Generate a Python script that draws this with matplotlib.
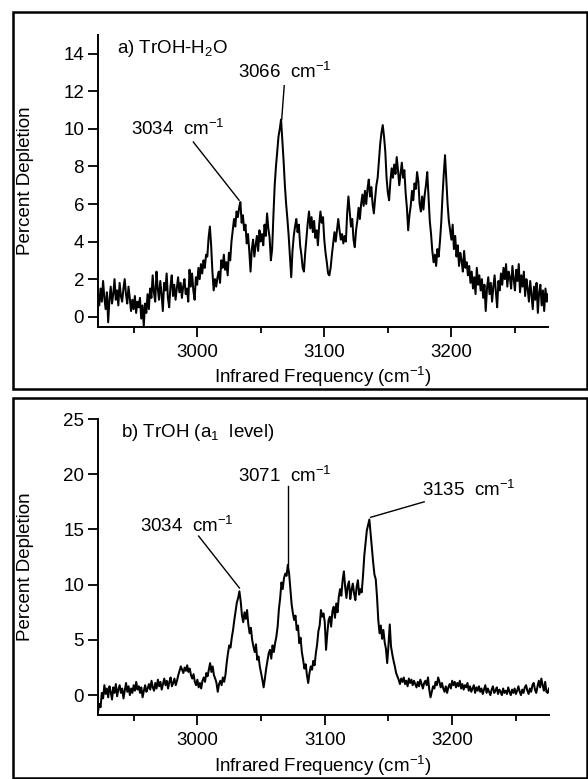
import numpy as np
import matplotlib
matplotlib.use("Agg")
import matplotlib.pyplot as plt
from matplotlib.patches import Rectangle

plt.rcParams['font.family'] = ['Liberation Sans', 'DejaVu Sans']
plt.rcParams['mathtext.fontset'] = 'custom'
plt.rcParams['mathtext.rm'] = 'Liberation Sans'
plt.rcParams['mathtext.it'] = 'Liberation Sans:italic'
plt.rcParams['mathtext.bf'] = 'Liberation Sans:bold'

# ---------------- data ----------------
freq_start = 2922
freq_step = 1

depletion_a = [
    1.2, 0.6, 1.5, 0.8, 1.9, 1.0, 0.4, 1.3, -0.3, 0.9,
    1.6, 0.7, 1.2, 2.0, 0.9, 1.4, 0.6, 1.8, 1.1, 0.8,
    1.5, 2.0, 1.2, 0.7, 1.6, 1.0, 0.3, 0.9, 0.4, 1.1,
    0.2, 0.8, 0.5, 1.0, -0.1, 0.6, -0.5, 0.7, 0.2, 1.2,
    0.4, 1.5, 1.0, 2.2, 1.3, 0.8, 2.4, 1.5, 0.9, 1.9,
    1.2, 0.3, 1.8, 1.4, 2.3, 1.0, 0.5, 1.6, 2.2, 1.1,
    1.7, 0.9, 1.5, 2.1, 1.3, 1.8, 1.0, 1.6, 2.0, 1.2,
    1.5, 0.8, 2.5, 1.6, 2.3, 1.4, 0.9, 2.1, 1.7, 2.6,
    2.0, 2.8, 2.3, 3.0, 2.6, 3.3, 3.2, 4.2, 4.8, 3.8,
    2.4, 1.4, 2.0, 1.6, 2.1, 2.4, 1.8, 3.0, 2.6, 3.3,
    2.5, 2.9, 2.2, 3.4, 3.0, 4.0, 4.6, 5.2, 4.8, 5.6,
    5.3, 5.8, 6.1, 5.0, 5.4, 4.6, 4.9, 3.9, 4.4, 3.5,
    2.4, 3.6, 4.1, 3.2, 3.8, 4.3, 3.5, 4.6, 4.0, 4.4,
    3.8, 4.9, 4.3, 5.5, 4.7, 4.2, 3.0, 3.6, 5.4, 7.0,
    8.0, 8.8, 9.6, 10.0, 10.5, 9.4, 8.3, 7.0, 6.0, 5.2,
    4.3, 3.2, 2.1, 3.5, 4.3, 4.8, 5.2, 4.5, 4.9, 3.8,
    3.3, 2.6, 2.4, 3.4, 4.2, 5.0, 5.6, 4.7, 5.3, 4.5,
    5.1, 4.2, 4.6, 3.8, 4.9, 5.6, 5.0, 5.3, 4.1, 3.4,
    2.9, 2.3, 2.2, 2.6, 3.3, 3.9, 4.5, 4.0, 4.6, 5.2,
    4.6, 4.1, 4.4, 3.9, 4.3, 4.0, 5.5, 6.4, 5.6, 4.8,
    5.2, 4.1, 3.7, 4.6, 5.1, 5.8, 5.2, 6.0, 6.5, 5.9,
    6.7, 6.0, 6.8, 7.3, 6.4, 6.9, 6.0, 5.5, 6.3, 7.0,
    7.4, 8.3, 9.2, 9.8, 10.2, 9.6, 8.8, 7.4, 6.6, 6.2,
    7.2, 7.9, 7.4, 8.1, 7.6, 8.5, 7.8, 7.0, 7.6, 8.2,
    7.4, 7.8, 6.6, 5.8, 4.6, 5.4, 5.9, 6.7, 6.2, 7.1,
    6.8, 7.7, 7.2, 6.0, 5.6, 6.4, 5.7, 6.5, 7.0, 7.7,
    6.4, 5.1, 4.4, 3.5, 2.9, 3.3, 2.7, 3.6, 3.2, 4.0,
    5.0, 6.4, 7.6, 8.6, 7.3, 6.0, 5.1, 4.6, 4.1, 4.9,
    3.6, 4.3, 3.2, 3.8, 2.7, 3.4, 3.0, 2.4, 3.5, 2.6,
    2.9, 2.2, 2.7, 1.8, 2.4, 1.5, 2.1, 1.2, 2.6, 1.7,
    2.2, 1.4, 2.0, 1.0, 1.7, 0.3, 1.5, 2.1, 1.2, 1.8,
    0.8, 1.6, 2.2, 1.3, 0.5, 1.9, 1.4, 2.3, 1.7, 2.6,
    2.0, 2.8, 1.6, 2.4, 2.1, 1.5, 2.7, 2.0, 1.4, 2.5,
    1.9, 2.8, 1.3, 2.2, 1.6, 2.4, 1.1, 2.0, 1.5, 0.8,
    1.9, 1.2, 0.4, 1.6, 0.9, 1.8, 0.2, 1.3, 1.7, 0.6,
    1.4, 0.3, 1.5, 0.8, 1.2,
]

depletion_b = [
    -1.5, -0.8, -1.1, 0.2, -0.3, 0.9, 0.1, 0.6, -0.2, 0.8,
    0.3, -0.4, 0.7, 0.2, 1.0, -0.1, 0.5, 0.9, 0.2, 0.6,
    -0.3, 0.4, 1.1, 0.3, 0.8, 0.0, 0.6, 0.2, 0.9, 0.4,
    1.2, 0.5, 0.8, 0.2, 0.7, -0.2, 0.4, 0.9, 0.3, 0.6,
    1.0, 0.5, 1.3, 0.7, 0.4, 1.1, 0.6, 1.4, 0.8, 1.2,
    0.5, 1.0, 1.5, 0.9, 1.3, 0.6, 1.2, 1.6, 0.8, 1.1,
    1.5, 0.9, 1.3, 1.8, 2.2, 2.6, 2.3, 2.0, 2.5, 2.2,
    2.7, 2.1, 2.4, 1.8, 1.5, 1.9, 1.2, 0.9, 1.4, 0.7,
    1.1, 0.6, 1.3, 1.6, 1.2, 2.0, 1.7, 2.3, 2.9, 2.1,
    2.6, 1.8, 1.5, 1.1, 0.3, 1.0, 1.3, 0.9, 1.6, 1.2,
    1.8, 2.9, 3.8, 4.5, 4.3, 5.2, 5.9, 6.8, 7.6, 8.4,
    8.8, 9.4, 8.5, 7.2, 6.6, 7.5, 6.9, 7.7, 6.4, 5.6,
    6.1, 5.0, 4.4, 3.9, 4.6, 3.2, 3.5, 2.6, 2.0, 1.4,
    0.7, 1.5, 2.4, 3.1, 3.8, 4.1, 3.3, 4.5, 3.9, 4.7,
    5.3, 6.2, 7.8, 8.8, 10.2, 9.6, 10.6, 11.0, 10.8, 11.8,
    11.0, 9.6, 8.2, 7.4, 6.8, 7.2, 5.9, 6.3, 4.7, 5.2,
    3.9, 3.2, 2.4, 2.8, 1.8, 1.1, 2.0, 2.6, 2.3, 3.1,
    2.7, 3.8, 4.6, 5.8, 6.3, 7.7, 7.1, 7.4, 6.6, 4.1,
    5.6, 6.8, 7.1, 6.2, 7.6, 8.0, 7.0, 8.3, 7.5, 8.9,
    9.6, 9.0, 10.4, 11.2, 9.8, 8.8, 9.9, 10.3, 8.7, 9.5,
    10.1, 9.2, 8.6, 9.8, 10.4, 9.1, 9.6, 9.3, 10.8, 12.6,
    13.8, 14.9, 15.4, 15.9, 14.6, 13.2, 12.0, 10.9, 10.5, 8.9,
    6.8, 5.6, 6.3, 5.1, 5.9, 4.8, 4.2, 2.9, 4.5, 6.4,
    4.4, 3.7, 3.1, 2.6, 2.0, 1.7, 1.4, 1.0, 1.5, 1.2,
    1.6, 1.0, 1.3, 0.8, 1.5, 1.1, 1.4, 0.9, 1.3, 1.0,
    0.7, 1.2, 0.8, 1.4, 1.0, 0.6, 1.1, 1.3, 0.9, 1.6,
    0.5, -0.2, 0.3, 0.8, 0.6, 1.2, 0.9, 1.6, 1.2, 0.7,
    1.1, 0.6, 0.3, 0.8, 0.2, 0.7, 1.0, 0.6, 1.3, 0.9,
    1.2, 0.7, 1.1, 0.8, 1.3, 0.6, 1.0, 0.5, 0.9, 0.7,
    1.1, 0.4, 0.8, 0.3, 0.6, 0.9, 0.2, 0.7, 0.4, 0.8,
    0.3, 0.6, 0.1, 0.5, 0.9, 0.2, 0.6, 0.3, 0.0, 0.5,
    0.8, 0.2, 0.4, 0.7, 0.1, 0.5, 0.3, 0.0, 0.6, 0.2,
    0.4, 0.1, 0.7, 0.3, 0.0, 0.5, 0.2, 0.6, 0.1, 0.4,
    0.8, 0.3, 0.0, 0.5, 0.2, 0.7, 0.9, 0.4, 0.1, 0.6,
    0.3, 0.9, 1.1, 0.5, 0.2, 0.8, 1.3, 0.7, 1.5, 0.9,
    0.4, 1.2, 0.3, 0.2, 0.6,
]

freq = freq_start + freq_step * np.arange(len(depletion_a))

title_a = r"a) TrOH-H$_2$O"
title_b = r"b) TrOH (a$_1$  level)"
ylabel = "Percent Depletion"
xlabel = r"Infrared Frequency (cm$^{-1}$)"
xticks = [3000, 3100, 3200]
xticks_minor = [2950, 3050, 3150, 3250]
yticks_a = [0, 2, 4, 6, 8, 10, 12, 14]
yticks_b = [0, 5, 10, 15, 20, 25]

# annotations: (text, peak x, peak y, text-end x, text-end y, text x, text y)
ann_a = [
    (r"3034  cm$^{-1}$", 3033, 6.2, 2997, 9.3, 2948, 9.7),
    (r"3066  cm$^{-1}$", 3066.5, 10.5, 3068.5, 12.3, 3032, 12.7),
]
ann_b = [
    (r"3034  cm$^{-1}$", 3033, 9.7, 3001, 14.4, 2955, 14.8),
    (r"3071  cm$^{-1}$", 3071, 11.8, 3071, 18.9, 3032, 19.3),
    (r"3135  cm$^{-1}$", 3136, 16.1, 3178, 17.5, 3176, 18.0),
]

# ---------------- figure ----------------
W, H = 588, 779
fig = plt.figure(figsize=(W / 100, H / 100), dpi=100)

def fx(px):
    return px / W

def fy(py):
    return 1 - py / H

FS = 13.5

def setup(ax, ylim, yticks):
    ax.set_xlim(2922, 3276)
    ax.set_ylim(*ylim)
    for s in ['top', 'right']:
        ax.spines[s].set_visible(False)
    for s in ['left', 'bottom']:
        ax.spines[s].set_linewidth(1.4)
    ax.set_xticks(xticks)
    ax.set_xticks(xticks_minor, minor=True)
    ax.set_yticks(yticks)
    ax.set_yticklabels([str(t) for t in yticks])
    ax.tick_params(axis='both', which='major', direction='out', length=7,
                   width=1.3, labelsize=FS, pad=3)
    ax.tick_params(axis='x', which='minor', direction='out', length=4, width=1.3)
    ax.tick_params(axis='x', which='major', pad=5)
    ax.patch.set_alpha(0)

# panel a
ax1 = fig.add_axes([fx(98), fy(327), fx(548) - fx(98), fy(35) - fy(327)])
ax1.plot(freq, depletion_a, color='black', lw=1.45)
setup(ax1, (-0.55, 15.0), yticks_a)
ax1.text(2937, 14.3, title_a, fontsize=FS, va='center', ha='left')
for t, x0, y0, x1, y1, tx, ty in ann_a:
    ax1.plot([x0, x1], [y0, y1], color='black', lw=1.0)
    ax1.text(tx, ty, t, fontsize=FS, ha='left', va='baseline')

# panel b
ax2 = fig.add_axes([fx(98), fy(715), fx(549) - fx(98), fy(419) - fy(715)])
ax2.plot(freq, depletion_b, color='black', lw=1.45)
setup(ax2, (-1.8, 25.0), yticks_b)
ax2.text(2940, 23.8, title_b, fontsize=FS, va='center', ha='left')
for t, x0, y0, x1, y1, tx, ty in ann_b:
    ax2.plot([x0, x1], [y0, y1], color='black', lw=1.0)
    ax2.text(tx, ty, t, fontsize=FS, ha='left', va='baseline')

# axis labels placed in figure coordinates
for ax, ycen, xl_y in [(ax1, 181, 377), (ax2, 567, 766)]:
    fig.text(fx(26), fy(ycen), ylabel, rotation=90, ha='center', va='center', fontsize=FS)
    fig.text(fx(323), fy(xl_y), xlabel, ha='center', va='center', fontsize=FS)

# outer frames
fig.patches.append(Rectangle((fx(13), fy(389)), fx(587) - fx(13), fy(12) - fy(389),
                             transform=fig.transFigure, fill=False, lw=1.8, ec='black'))
fig.patches.append(Rectangle((fx(13), fy(778)), fx(587) - fx(13), fy(398) - fy(778),
                             transform=fig.transFigure, fill=False, lw=1.8, ec='black'))

fig.savefig("out.png", dpi=100)
